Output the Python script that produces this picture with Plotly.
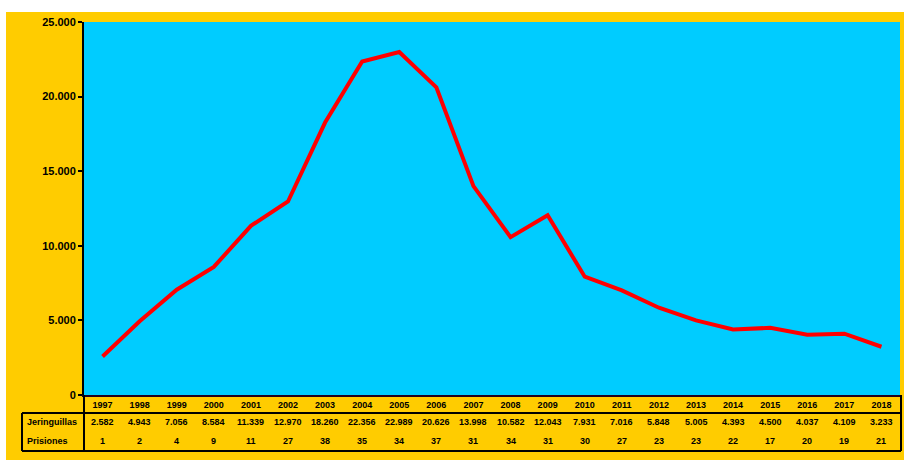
import plotly.graph_objects as go

years = ["1997","1998","1999","2000","2001","2002","2003","2004","2005","2006","2007",
         "2008","2009","2010","2011","2012","2013","2014","2015","2016","2017","2018"]
jeringuillas = [2582,4943,7056,8584,11339,12970,18260,22356,22989,20626,13998,
                10582,12043,7931,7016,5848,5005,4393,4500,4037,4109,3233]
prisiones = [1,2,4,9,11,27,38,35,34,37,31,34,31,30,27,23,23,22,17,20,19,21]
row_labels = ["Jeringuillas", "Prisiones"]
y_ticks = [0, 5000, 10000, 15000, 20000, 25000]

W, H = 904, 460
L, R, T, B = 84, 900, 22, 395  # plot area in pixels

def px(x):
    return (x - L) / (R - L)

def py(y):
    return (B - y) / (B - T)

def fmt(v):
    return f"{v:,}".replace(",", ".")

FONT = "Liberation Sans, Arial"

fig = go.Figure()
fig.add_trace(go.Scatter(x=years, y=jeringuillas, mode="lines",
                         line=dict(color="#FF0000", width=4), hoverinfo="x+y"))

shapes = []
# white strips at top and left
shapes.append(dict(type="rect", xref="paper", yref="paper", x0=px(0), x1=px(W), y0=py(12), y1=py(0),
                   fillcolor="white", line=dict(width=0), layer="below"))
shapes.append(dict(type="rect", xref="paper", yref="paper", x0=px(0), x1=px(6), y0=py(H), y1=py(0),
                   fillcolor="white", line=dict(width=0), layer="below"))

line_style = dict(color="black", width=2)
def hline(y, x0, x1):
    shapes.append(dict(type="line", xref="paper", yref="paper", x0=px(x0), x1=px(x1),
                       y0=py(y), y1=py(y), line=line_style))
def vline(x, y0, y1):
    shapes.append(dict(type="line", xref="paper", yref="paper", x0=px(x), x1=px(x),
                       y0=py(y0), y1=py(y1), line=line_style))

hline(413, 22, 901)
hline(451, 22, 901)
vline(22, 413, 451)
vline(84, 395, 451)
vline(901, 395, 451)

annotations = []
row_y = [421.5, 440.5]
tf = dict(family=FONT, size=9, color="black", weight="bold")
for label, yy in zip(row_labels, row_y):
    annotations.append(dict(x=px(25), y=py(yy), xref="paper", yref="paper", text=label,
                            showarrow=False, xanchor="left", yanchor="middle", font=tf))
for i, (j, p) in enumerate(zip(jeringuillas, prisiones)):
    annotations.append(dict(x=i, y=py(row_y[0]), xref="x", yref="paper", text=fmt(j),
                            showarrow=False, xanchor="center", yanchor="middle", font=tf))
    annotations.append(dict(x=i, y=py(row_y[1]), xref="x", yref="paper", text=str(p),
                            showarrow=False, xanchor="center", yanchor="middle", font=tf))

fig.update_layout(
    width=W, height=H,
    margin=dict(l=L, r=W - R, t=T, b=H - B, pad=0),
    paper_bgcolor="#FFCC00",
    plot_bgcolor="#00CCFF",
    showlegend=False,
    shapes=shapes,
    annotations=annotations,
    xaxis=dict(type="category", categoryorder="array", categoryarray=years,
               range=[-0.5, len(years) - 0.5], showgrid=False, zeroline=False,
               showline=True, linecolor="#200020", linewidth=2, ticks="",
               tickfont=tf, ticklabelstandoff=0, fixedrange=True, automargin=False),
    yaxis=dict(range=[0, 25000], tickvals=y_ticks, ticktext=[fmt(v) for v in y_ticks],
               showgrid=False, zeroline=False, showline=True, linecolor="black", linewidth=2,
               ticks="outside", ticklen=4, tickwidth=2, tickcolor="black",
               tickfont=dict(family=FONT, size=11, color="black", weight="bold"),
               fixedrange=True, automargin=False),
)

fig.write_html("out.html", config={"displayModeBar": False},
               post_script="document.body.style.margin='0';document.body.style.overflow='hidden';")
